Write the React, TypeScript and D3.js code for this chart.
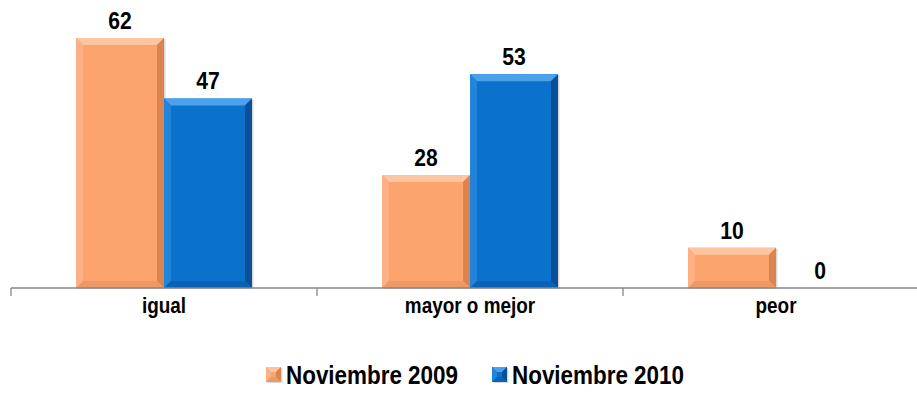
import * as d3 from "d3";

// datos del gráfico
const categories = ["igual", "mayor o mejor", "peor"];
const series = ["Noviembre 2009", "Noviembre 2010"];
const values2009 = [62, 28, 10];
const values2010 = [47, 53, 0];

const palette = [
  { base: "#FCA46E", top: "#FDC6A0", left: "#FDB083", right: "#DC844F", bottom: "#EE9863" },
  { base: "#0B72CC", top: "#4AA1EC", left: "#2284DA", right: "#0A4F98", bottom: "#0962B4" },
];

const W = 917;
const H = 412;
const baseY = 288;
const font = "'Liberation Sans', Arial, sans-serif";
const squeeze = 0.88;

function Bar({ x, y, w, h, c, b0 = 7 }: { x: number; y: number; w: number; h: number; c: typeof palette[0]; b0?: number }) {
  if (h <= 0) return null;
  const b = Math.min(b0, h / 2, w / 2);
  const x2 = x + w;
  const y2 = y + h;
  return (
    <g>
      <rect x={x + 1.5} y={y + 1} width={w} height={h} fill="#000" opacity={0.15} />
      <rect x={x} y={y} width={w} height={h} fill={c.base} />
      <polygon points={`${x},${y} ${x2},${y} ${x2 - b},${y + b} ${x + b},${y + b}`} fill={c.top} />
      <polygon points={`${x},${y} ${x + b},${y + b} ${x + b},${y2 - b} ${x},${y2}`} fill={c.left} />
      <polygon points={`${x2},${y} ${x2},${y2} ${x2 - b},${y2 - b} ${x2 - b},${y + b}`} fill={c.right} />
      <polygon points={`${x},${y2} ${x2},${y2} ${x2 - b},${y2 - b} ${x + b},${y2 - b}`} fill={c.bottom} />
    </g>
  );
}

function Label({ x, y, size, anchor = "middle", children }: { x: number; y: number; size: number; anchor?: string; children: any }) {
  return (
    <text
      transform={`translate(${x},${y}) scale(${squeeze},1)`}
      textAnchor={anchor}
      fontSize={size}
      fontWeight="bold"
      fill="#000"
    >
      {children}
    </text>
  );
}

export default function App() {
  const x0 = d3.scaleBand().domain(categories).range([11, 929]);
  const groupPad = 65;
  const x1 = d3
    .scaleBand()
    .domain(series)
    .range([groupPad, x0.bandwidth() - groupPad]);
  const y = d3.scaleLinear().domain([0, 62]).range([baseY, 38]);

  const data = [values2009, values2010];
  const ticks = [11, ...categories.map((c) => x0(c)! + x0.bandwidth())];

  return (
    <svg width={W} height={H} style={{ position: "absolute", left: 0, top: 0 }} fontFamily={font}>
      <rect width={W} height={H} fill="#fff" />
      {categories.map((cat, i) =>
        series.map((s, j) => {
          const v = data[j][i];
          const bx = x0(cat)! + x1(s)!;
          const by = y(v);
          return (
            <g key={cat + s}>
              <Bar x={bx} y={by} w={x1.bandwidth()} h={baseY - by} c={palette[j]} />
              <Label x={bx + x1.bandwidth() / 2} y={by - 9} size={24}>
                {v}
              </Label>
            </g>
          );
        })
      )}
      <line x1={11} x2={W} y1={baseY} y2={baseY} stroke="#868686" strokeWidth={1.3} />
      {ticks.map((t) => (
        <line key={t} x1={t} x2={t} y1={baseY} y2={baseY + 8} stroke="#868686" strokeWidth={1.3} />
      ))}
      {categories.map((cat) => (
        <Label key={cat} x={x0(cat)! + x0.bandwidth() / 2} y={313} size={21.5}>
          {cat}
        </Label>
      ))}
      {series.map((s, j) => {
        const lx = j === 0 ? 266 : 492;
        return (
          <g key={s}>
            <Bar x={lx} y={367} w={15} h={15} c={palette[j]} b0={5} />
            <Label x={lx + 20} y={384} size={25.5} anchor="start">
              {s}
            </Label>
          </g>
        );
      })}
    </svg>
  );
}
